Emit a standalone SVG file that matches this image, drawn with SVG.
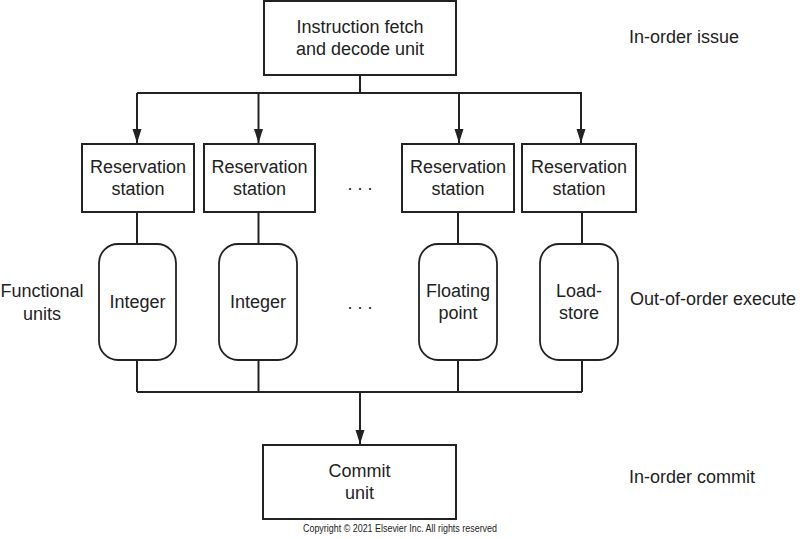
<svg xmlns="http://www.w3.org/2000/svg" width="800" height="539" viewBox="0 0 800 539">
<defs>
<style>
.box{fill:#fff;stroke:#222;stroke-width:2}
.fu{fill:#fff;stroke:#222;stroke-width:1.8}
.ln{fill:none;stroke:#222;stroke-width:2}
.t{font-family:"Liberation Sans",Arial,sans-serif;font-size:18px;fill:#222;text-anchor:middle}
.l{font-family:"Liberation Sans",Arial,sans-serif;font-size:18px;fill:#222}
.c{font-family:"Liberation Sans",Arial,sans-serif;font-size:10px;fill:#222;text-anchor:middle}
</style>
<marker id="ah" markerWidth="10" markerHeight="14" refX="10" refY="5" orient="auto" markerUnits="userSpaceOnUse" viewBox="0 0 10 14">
<path d="M0,0 L10,5 L0,10 Z" fill="#222"/>
</marker>
<marker id="arr" viewBox="0 0 14 10" refX="14" refY="5" markerWidth="14" markerHeight="10" orient="auto" markerUnits="userSpaceOnUse">
<path d="M0,0.5 L14,5 L0,9.5 Z" fill="#222"/>
</marker>
</defs>
<g id="connectors">
<path class="ln" d="M360,75 V93 M137,93 H582"/>
<path class="ln" d="M137,93 V143" marker-end="url(#arr)"/>
<path class="ln" d="M258.5,93 V143" marker-end="url(#arr)"/>
<path class="ln" d="M459,93 V143" marker-end="url(#arr)"/>
<path class="ln" d="M581,93 V143" marker-end="url(#arr)"/>
<path class="ln" d="M137,212 V244 M258.5,212 V244 M458,212 V244 M582,212 V244"/>
<path class="ln" d="M137,360 V392 M258.5,360 V392 M458,360 V392 M582,360 V392 M137,392 H582"/>
<path class="ln" d="M360,392 V444" marker-end="url(#arr)"/>
</g>
<g id="fetch">
<rect class="box" x="264" y="1" width="192" height="74"/>
<text class="t" x="360" y="33">Instruction fetch</text>
<text class="t" x="360" y="55">and decode unit</text>
</g>
<g id="rs1">
<rect class="box" x="82" y="144" width="112" height="68"/>
<text class="t" x="138" y="173">Reservation</text>
<text class="t" x="138" y="195">station</text>
</g>
<g id="rs2">
<rect class="box" x="204" y="144" width="111" height="68"/>
<text class="t" x="259.5" y="173">Reservation</text>
<text class="t" x="259.5" y="195">station</text>
</g>
<g id="rs3">
<rect class="box" x="402" y="144" width="112" height="68"/>
<text class="t" x="458" y="173">Reservation</text>
<text class="t" x="458" y="195">station</text>
</g>
<g id="rs4">
<rect class="box" x="522" y="144" width="114" height="68"/>
<text class="t" x="579" y="173">Reservation</text>
<text class="t" x="579" y="195">station</text>
</g>
<g id="dots1"><text class="t" x="360" y="190">. . .</text></g>
<g id="fu1">
<rect class="fu" x="99" y="244" width="77" height="116" rx="19" ry="19"/>
<text class="t" x="137.5" y="308">Integer</text>
</g>
<g id="fu2">
<rect class="fu" x="219" y="244" width="78" height="116" rx="19" ry="19"/>
<text class="t" x="258" y="308">Integer</text>
</g>
<g id="dots2"><text class="t" x="360" y="309">. . .</text></g>
<g id="fu3">
<rect class="fu" x="419" y="244" width="78" height="116" rx="19" ry="19"/>
<text class="t" x="458" y="297">Floating</text>
<text class="t" x="458" y="319">point</text>
</g>
<g id="fu4">
<rect class="fu" x="540" y="244" width="78" height="116" rx="19" ry="19"/>
<text class="t" x="579" y="297">Load-</text>
<text class="t" x="579" y="319">store</text>
</g>
<g id="commit">
<rect class="box" x="263" y="445" width="193" height="74"/>
<text class="t" x="359.5" y="477">Commit</text>
<text class="t" x="359.5" y="499">unit</text>
</g>
<g id="labels">
<text class="t" x="42" y="297">Functional</text>
<text class="t" x="42" y="320">units</text>
<text class="l" x="629" y="43">In-order issue</text>
<text class="l" x="630" y="305">Out-of-order execute</text>
<text class="l" x="629" y="483">In-order commit</text>
<text class="c" x="400" y="532" textLength="194" lengthAdjust="spacingAndGlyphs">Copyright © 2021 Elsevier Inc. All rights reserved</text>
</g>
</svg>
